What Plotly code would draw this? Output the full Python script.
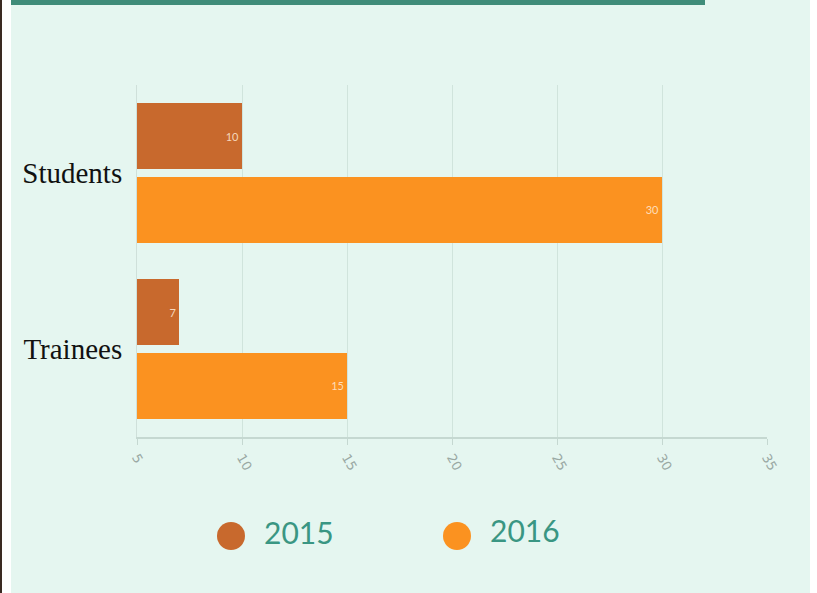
import plotly.graph_objects as go

categories = ["Students", "Trainees"]
years = ["2015", "2016"]
values_2015 = [10, 7]
values_2016 = [30, 15]
tick_vals = [5, 10, 15, 20, 25, 30, 35]
colors = {"2015": "#c8692d", "2016": "#fb9220"}

W, H = 817, 593
L, R, T, B = 137, 50, 85, 156
pw, ph = W - L - R, H - T - B

def px(x):
    return (x - L) / pw

def py(y):
    return (H - B - y) / ph

fig = go.Figure()
for yr, vals in zip(years, [values_2015, values_2016]):
    fig.add_trace(go.Bar(
        y=categories, x=vals, name=yr, orientation="h",
        marker=dict(color=colors[yr], line=dict(width=0)),
        text=[str(v) for v in vals], textposition="inside",
        insidetextanchor="end", constraintext="none",
        textfont=dict(family="Lato", size=11, color="rgba(255,235,215,0.85)"),
        showlegend=False,
    ))

shapes = [
    # white left strip and dark edge
    dict(type="rect", xref="paper", yref="paper", x0=px(0), x1=px(11), y0=py(593), y1=py(0),
         fillcolor="#ffffff", line=dict(width=0), layer="below"),
    dict(type="rect", xref="paper", yref="paper", x0=px(0), x1=px(2), y0=py(593), y1=py(0),
         fillcolor="#3a2a22", line=dict(width=0), layer="below"),
    dict(type="rect", xref="paper", yref="paper", x0=px(810), x1=px(817), y0=py(593), y1=py(0),
         fillcolor="#ffffff", line=dict(width=0), layer="below"),
    # top teal bar
    dict(type="rect", xref="paper", yref="paper", x0=px(11), x1=px(705), y0=py(5), y1=py(0),
         fillcolor="#3f8c79", line=dict(width=0), layer="below"),
]
annotations = []
legend_pos = [(231, 536, 262, 532), (457, 536, 488, 530)]
for yr, (cx, cy, tx, ty) in zip(years, legend_pos):
    r = 14
    shapes.append(dict(type="circle", xref="paper", yref="paper",
                       x0=px(cx - r), x1=px(cx + r), y0=py(cy + r), y1=py(cy - r),
                       fillcolor=colors[yr], line=dict(width=0)))
    annotations.append(dict(xref="paper", yref="paper", x=px(tx), y=py(ty),
                            xanchor="left", yanchor="middle", text=yr, showarrow=False,
                            font=dict(family="Lato", size=30, color="#3a9683")))

fig.update_layout(
    width=W, height=H,
    margin=dict(l=L, r=R, t=T, b=B),
    paper_bgcolor="#e5f6f0", plot_bgcolor="#e5f6f0",
    barmode="group", bargap=0.16, bargroupgap=0.108,
    shapes=shapes, annotations=annotations,
    xaxis=dict(range=[5, 35], tickvals=tick_vals, tickangle=60,
               showgrid=True, gridcolor="#d0e4dc", gridwidth=1,
               showline=True, linecolor="#c5d8d1", linewidth=2,
               ticks="outside", ticklen=6, tickcolor="#c5d8d1",
               tickfont=dict(family="DejaVu Sans", size=13, color="#9aa9a4"),
               zeroline=False, mirror=False),
    yaxis=dict(autorange="reversed", showgrid=False, showline=True,
               linecolor="#cfe0da", linewidth=1, ticks="", ticklabelstandoff=8,
               tickfont=dict(family="Liberation Serif", size=29, color="#111111")),
)
fig.write_html("out.html", config={"displayModeBar": False},
               post_script="document.body.style.margin='0';document.body.style.overflow='hidden';")
